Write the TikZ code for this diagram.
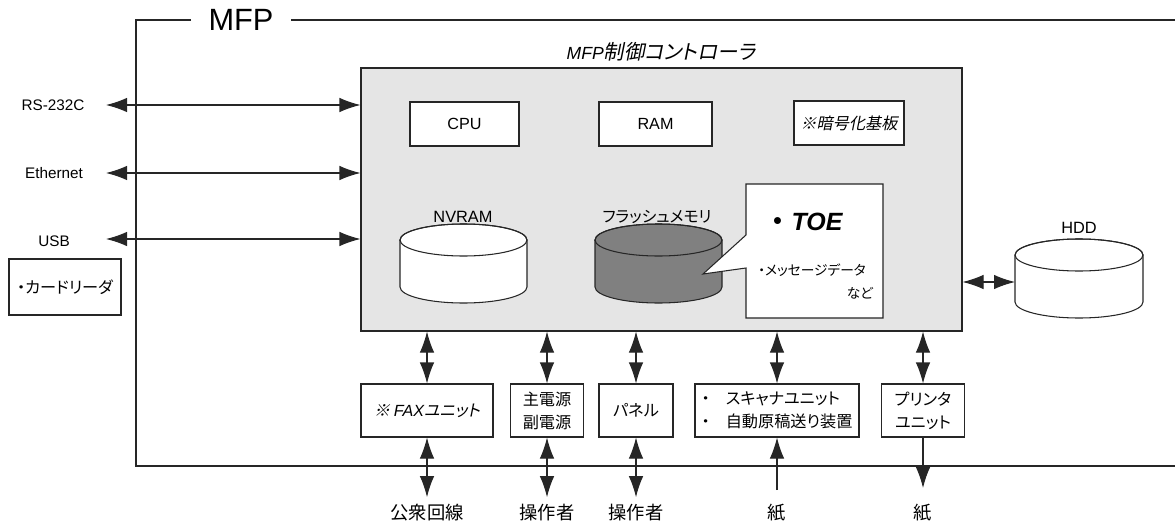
\documentclass[tikz,border=0pt]{standalone}
\usepackage{fontspec}
\usepackage{tikz}
\usetikzlibrary{arrows.meta}
\setmainfont{Liberation Sans}
\newfontfamily\jp[RawFeature=+palt]{Noto Sans CJK JP}
\newfontfamily\jpit[RawFeature=+palt,FakeSlant=0.2]{Noto Sans CJK JP}

\begin{document}
\begin{tikzpicture}[
        >={Latex[length=0.42cm,width=0.29cm]},
        wire/.style={draw=black!85, line width=0.6pt},
        biarrow/.style={wire, <->},
        toarrow/.style={wire, ->},
        box/.style={wire, fill=white, minimum height=0.88cm, inner sep=2pt, font=\fontsize{9.2}{13}\selectfont},
        ubox/.style={box, minimum height=1.06cm, align=center},
        lbl/.style={inner sep=1pt, font=\fontsize{8.7}{10}\selectfont},
        dlbl/.style={inner sep=1pt, font=\fontsize{9.3}{11}\selectfont},
        btm/.style={inner sep=4pt, font=\jp\fontsize{10.4}{12}\selectfont},
        cyl/.style={wire, fill=white}]
            \useasboundingbox (0,0) rectangle (23.50,10.44);
            \draw[wire] (3.82,10.04) -- (2.72,10.04) -- (2.72,1.12) -- (23.50,1.12);
            \draw[wire] (5.82,10.04) -- (23.50,10.04);
            \node[font=\fontsize{17.5}{20}\selectfont] (mfp) at (4.82,10.04) {MFP};

            \node[wire, fill=gray!20, minimum width=12.02cm, minimum height=5.26cm] (ctrl) at (13.23,6.45) {};
            \node[font=\fontsize{10}{12}\selectfont] (ctitle) at (13.22,9.40) {{\itshape MFP}{\jpit\fontsize{11.6}{12}\selectfont 制御コントローラ}};

            \node[box, minimum width=2.18cm] (cpu) at (9.29,7.96) {CPU};
            \node[box, minimum width=2.26cm] (ram) at (13.11,7.96) {RAM};
            \node[box, minimum width=2.20cm] (crypt) at (16.98,7.98) {\jpit ※暗号化基板};

            \node[dlbl] (nvlbl) at (9.26,6.10) {NVRAM};
            \filldraw[cyl] (8.00,5.64) -- (8.00,4.70) arc[start angle=180, end angle=360, x radius=1.27cm, y radius=0.32cm] -- (10.54,5.64) arc[start angle=0, end angle=180, x radius=1.27cm, y radius=0.32cm] -- cycle;
            \draw[wire] (9.27,5.64) ellipse [x radius=1.27cm, y radius=0.32cm];

            \node[dlbl, font=\jp\fontsize{9}{11}\selectfont] (fllbl) at (13.14,6.10) {フラッシュメモリ};
            \filldraw[cyl, fill=black!50] (11.90,5.64) -- (11.90,4.70) arc[start angle=180, end angle=360, x radius=1.27cm, y radius=0.32cm] -- (14.44,5.64) arc[start angle=0, end angle=180, x radius=1.27cm, y radius=0.32cm] -- cycle;
            \draw[wire] (13.17,5.64) ellipse [x radius=1.27cm, y radius=0.32cm];

            \filldraw[wire, fill=white] (14.92,6.76) -- (17.66,6.76) -- (17.66,4.08) -- (14.92,4.08) -- (14.92,5.08) -- (14.06,4.96) -- (14.92,5.74) -- cycle;
            \node[font=\fontsize{14.2}{16}\selectfont] (toe) at (16.14,6.00) {{\jp\bfseries ・}\hspace{0.3em}{\bfseries\itshape TOE}};
            \node[font=\jp\fontsize{7.8}{9}\selectfont] (msg) at (16.24,5.04) {・メッセージデータ};
            \node[font=\jp\fontsize{7.8}{9}\selectfont] (etc) at (17.20,4.58) {など};

            \node[dlbl] (hddlbl) at (21.58,5.88) {HDD};
            \filldraw[cyl] (20.30,5.34) -- (20.30,4.40) arc[start angle=180, end angle=360, x radius=1.28cm, y radius=0.32cm] -- (22.86,5.34) arc[start angle=0, end angle=180, x radius=1.28cm, y radius=0.32cm] -- cycle;
            \draw[wire] (21.58,5.34) ellipse [x radius=1.28cm, y radius=0.32cm];
            \coordinate (hddw) at (20.30,4.80);
            \draw[biarrow] (hddw -| ctrl.east) -- (hddw);

            \node[lbl] (rs) at (1.06,8.34) {RS-232C};
            \node[lbl] (eth) at (1.08,6.98) {Ethernet};
            \node[lbl] (usb) at (1.08,5.62) {USB};
            \coordinate (rsend) at (2.12,8.34);
            \coordinate (ethend) at (2.12,6.98);
            \coordinate (usbend) at (2.12,5.66);
            \draw[biarrow] (rsend) -- (rsend -| ctrl.west);
            \draw[biarrow] (ethend) -- (ethend -| ctrl.west);
            \draw[biarrow] (usbend) -- (usbend -| ctrl.west);
            \node[box, minimum width=2.24cm, minimum height=1.12cm] (card) at (1.30,4.70) {\jp ・カードリーダ};

            \node[ubox, minimum width=2.64cm] (fax) at (8.54,2.23) {{\jpit ※ }{\itshape FAX}{\jpit ユニット}};
            \node[ubox, minimum width=1.46cm] (pwr) at (10.94,2.23) {\jp 主電源\\\jp 副電源};
            \node[ubox, minimum width=1.48cm] (pnl) at (12.72,2.23) {\jp パネル};
            \node[ubox, minimum width=3.28cm, align=left] (scan) at (15.54,2.23) {\jp ・　スキャナユニット\\\jp ・　自動原稿送り装置};
            \node[ubox, minimum width=1.66cm] (prn) at (18.46,2.23) {\jp プリンタ\\\jp ユニット};

            \draw[biarrow] (fax.north |- ctrl.south) -- (fax.north);
            \draw[biarrow] (pwr.north |- ctrl.south) -- (pwr.north);
            \draw[biarrow] (pnl.north |- ctrl.south) -- (pnl.north);
            \draw[biarrow] (scan.north |- ctrl.south) -- (scan.north);
            \draw[biarrow] (prn.north |- ctrl.south) -- (prn.north);

            \node[btm] (publine) at (8.54,0.18) {公衆回線};
            \node[btm] (user1) at (10.94,0.18) {操作者};
            \node[btm] (user2) at (12.72,0.18) {操作者};
            \node[btm] (paperin) at (15.54,0.18) {紙};
            \node[btm] (paperout) at (18.46,0.18) {紙};
            \draw[biarrow] (fax) -- (publine);
            \draw[biarrow] (pwr) -- (user1);
            \draw[biarrow] (pnl) -- (user2);
            \draw[toarrow, shorten <=0.14cm] (paperin) -- (scan);
            \draw[toarrow, shorten >=0.18cm] (prn) -- (paperout);
\end{tikzpicture}
\end{document}
